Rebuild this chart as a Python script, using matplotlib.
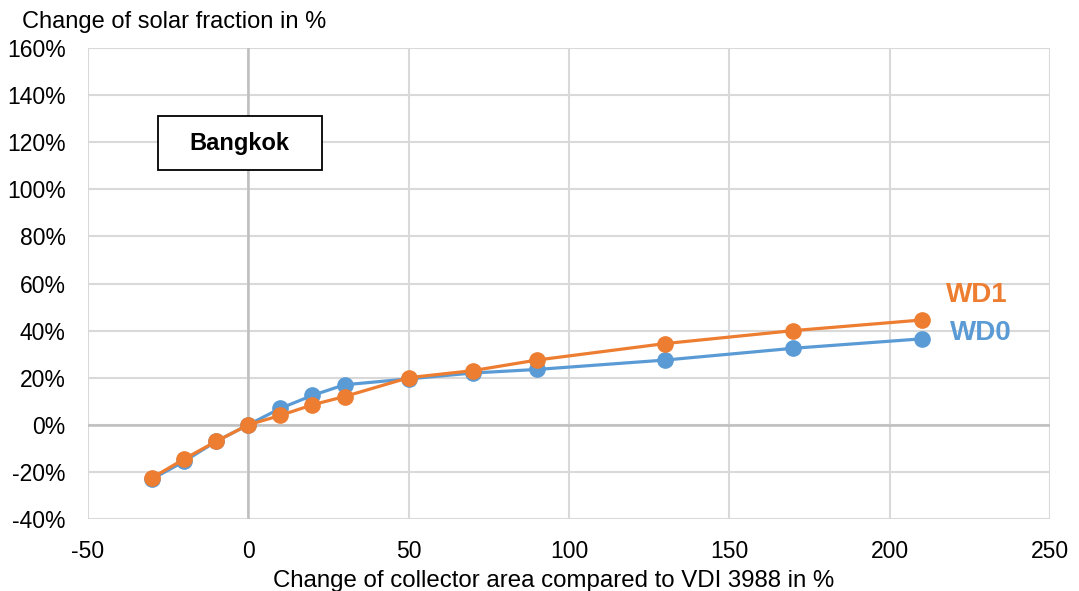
import matplotlib.pyplot as plt
from matplotlib.patches import Rectangle
from matplotlib.ticker import FuncFormatter

plt.rcParams['font.family'] = ['Liberation Sans', 'DejaVu Sans']
plt.rcParams['axes.unicode_minus'] = False

# change of collector area (%)
area = [-30, -20, -10, 0, 10, 20, 30, 50, 70, 90, 130, 170, 210]
# change of solar fraction (%)
wd0 = [-23, -15.5, -7, 0, 7, 12.5, 17, 19.5, 22, 23.5, 27.5, 32.5, 36.5]
wd1 = [-22.5, -14.5, -7, 0, 4, 8.5, 12, 20, 23, 27.5, 34.5, 40, 44.5]

blue = '#5B9BD5'
orange = '#ED7D31'

fig = plt.figure(figsize=(10.79, 5.91), dpi=100)
ax = fig.add_axes([0.0816, 0.1218, 0.8914, 0.797])

ax.plot(area, wd0, color=blue, lw=2.3, marker='o', ms=11, zorder=3)
ax.plot(area, wd1, color=orange, lw=2.3, marker='o', ms=11, zorder=4)

ax.set_xlim(-50, 250)
ax.set_ylim(-40, 160)
ax.set_xticks(range(-50, 251, 50))
ax.set_yticks(range(-40, 161, 20))
ax.yaxis.set_major_formatter(FuncFormatter(lambda v, p: f"{v:.0f}%"))

ax.grid(True, color='#d9d9d9', lw=1.5, zorder=0)
ax.axvline(0, color='#bfbfbf', lw=1.8, zorder=1)
ax.axhline(0, color='#bfbfbf', lw=1.8, zorder=1)
for s in ax.spines.values():
    s.set_visible(False)
ax.tick_params(length=0, labelsize=16.5, colors='black')
ax.tick_params(axis='y', pad=16)
ax.tick_params(axis='x', pad=15)
ax.set_axisbelow(True)

ax.set_xlabel("Change of collector area compared to VDI 3988 in %", fontsize=17.3, labelpad=5)
ax.xaxis.label.set_x(0.484)
fig.text(0.02, 0.963, "Change of solar fraction in %", fontsize=17, va='center')

# location box
ax.add_patch(Rectangle((0.0728, 0.741), 0.1704, 0.1146, transform=ax.transAxes,
                       fc='white', ec='black', lw=1.3, zorder=5))
ax.text(0.1578, 0.798, "Bangkok", transform=ax.transAxes, fontsize=17, fontweight='bold',
        ha='center', va='center', zorder=6)

ax.text(227.2, 55.2, "WD1", color=orange, fontsize=20, fontweight='bold', ha='center', va='center')
ax.text(228.5, 39.1, "WD0", color=blue, fontsize=20, fontweight='bold', ha='center', va='center')

fig.savefig("out.png", dpi=100)
